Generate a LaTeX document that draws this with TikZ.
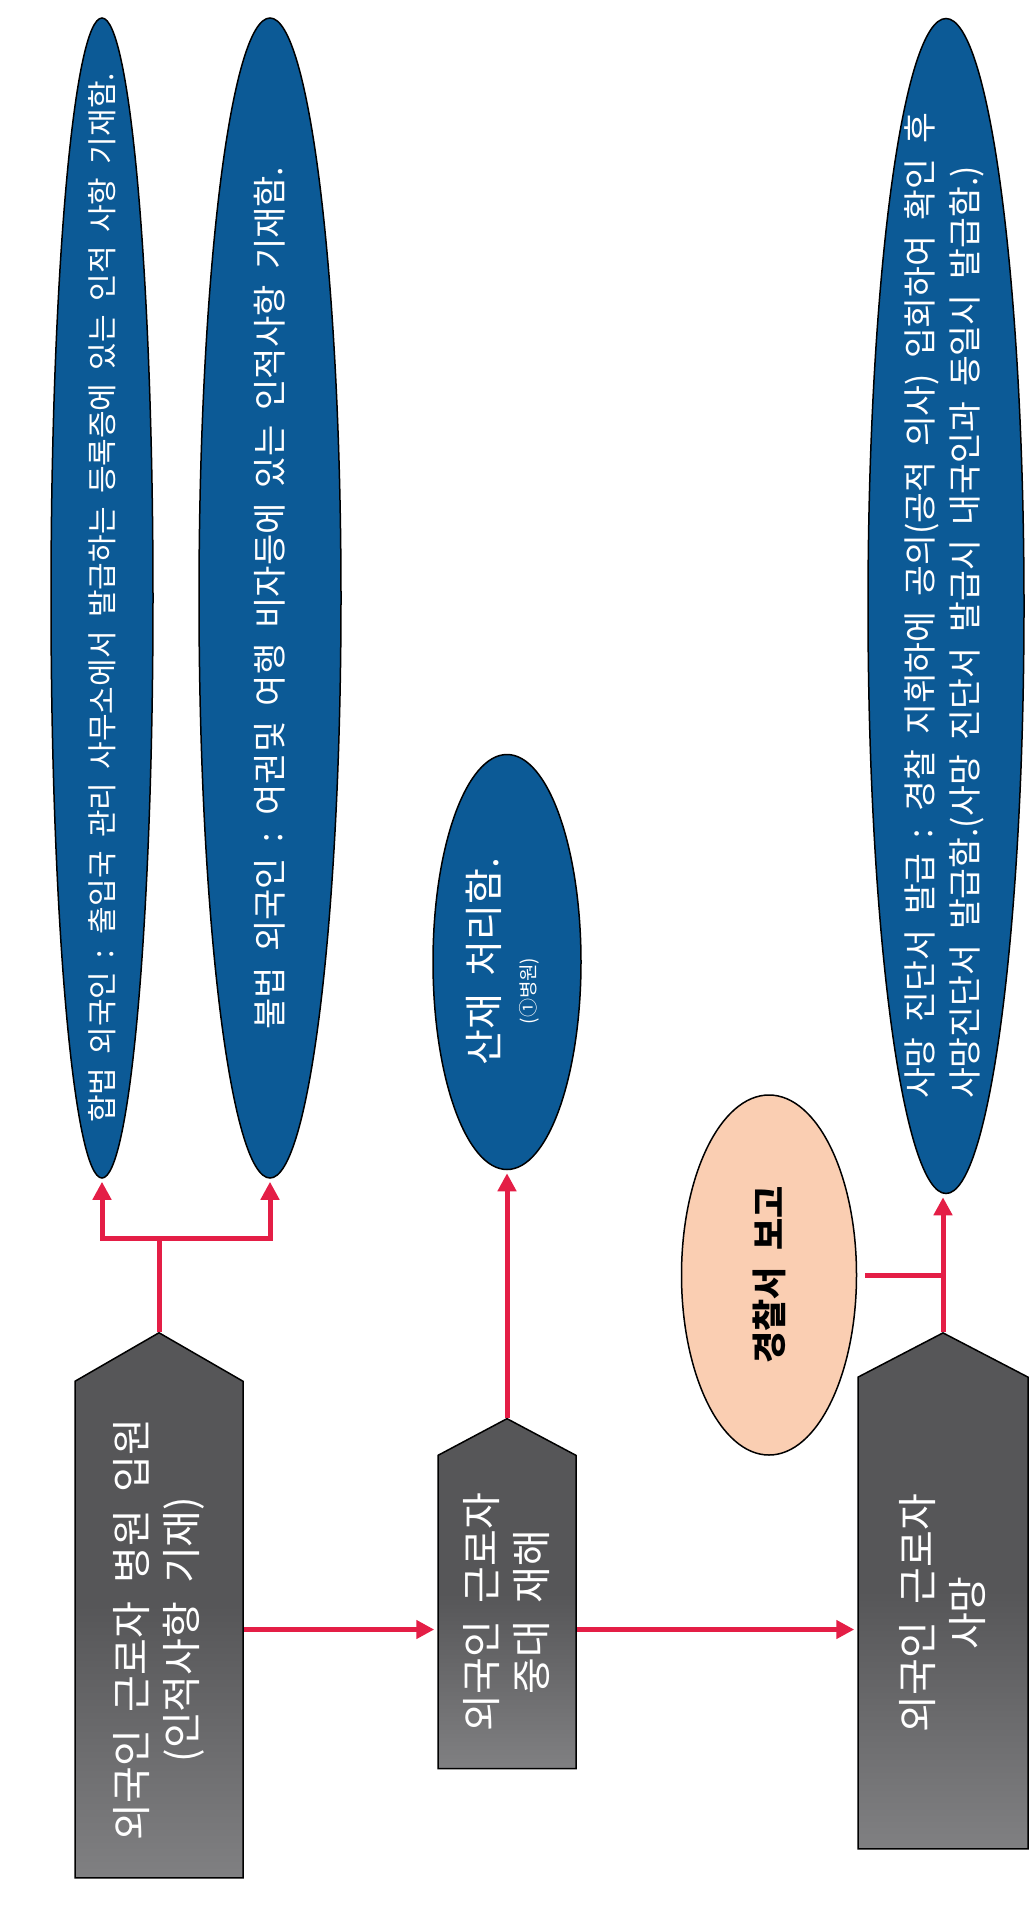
\documentclass[tikz,border=0pt]{standalone}
\usepackage{fontspec}
\setmainfont{Noto Sans CJK KR}[WordSpace=2]
\usetikzlibrary{shapes.geometric,shapes.symbols,arrows.meta}
\definecolor{linkred}{RGB}{228,30,70}
\definecolor{ovalblue}{RGB}{12,90,150}
\definecolor{peach}{RGB}{250,206,178}
\definecolor{slate}{RGB}{86,86,88}
\definecolor{slatelight}{RGB}{128,128,130}
\begin{document}
\begin{tikzpicture}[x=1pt,y=-1pt,
	  oval/.style={ellipse,draw=black,line width=1.5pt,fill=ovalblue,text=white,rotate=90,inner sep=0pt},
	  tag/.style={signal,signal to=east,draw=black,line width=1.5pt,top color=slate,bottom color=slatelight,middle color=slate,text=white,rotate=90,align=center,inner sep=0pt,font=\fontsize{40}{50}\selectfont},
	  link/.style={linkred,line width=5pt},
	  arr/.style={link,shorten >=3pt,-{Triangle[width=18pt,length=18pt]}}]
	  \useasboundingbox (0,0) rectangle (1028,1913);
	  \node[oval,minimum width=1160pt,minimum height=102pt,font=\fontsize{30}{36}\selectfont] (legal) at (102,598) {\makebox[0pt]{합법 외국인 : 출입국 관리 사무소에서 발급하는 등록증에 있는 인적 사항 기재함.}};
	  \node[oval,minimum width=1160pt,minimum height=142pt,font=\fontsize{34}{40}\selectfont] (illegal) at (270,598) {\makebox[0pt]{불법 외국인 : 여권및 여행 비자등에 있는 인적사항 기재함.}};
	  \node[oval,minimum width=415pt,minimum height=148pt,font=\fontsize{39}{44}\selectfont] (injury) at (507,962) {\makebox[0pt]{\begin{tabular}{@{}c@{}}산재 처리함.\\[-7pt]{\fontsize{19}{20}\selectfont (①병원)\hspace{58pt}\mbox{}}\end{tabular}}};
	  \node[oval,minimum width=1175pt,minimum height=156pt,font=\fontsize{33.5}{45}\selectfont] (cert) at (946,606) {\makebox[0pt]{\begin{tabular}{@{}l@{}}사망 진단서 발급 : 경찰 지휘하에 공의(공적 의사) 입회하여 확인 후\\사망진단서 발급함.(사망 진단서 발급시 내국인과 동일시 발급함.)\end{tabular}}};
	  \node[ellipse,draw=black,line width=1.5pt,fill=peach,rotate=90,inner sep=0pt,minimum width=360pt,minimum height=175pt,font=\fontsize{35}{40}\selectfont\bfseries] (police) at (769,1275) {경찰서 보고};
	  \node[tag,signal pointer angle=120,minimum width=545pt,minimum height=168pt] (admit) at (159,1629.5) {외국인 근로자 병원 입원\\(인적사항 기재)};
	  \node[tag,signal pointer angle=124,minimum width=350pt,minimum height=138pt] (accident) at (507,1612) {외국인 근로자\\중대 재해};
	  \node[tag,signal pointer angle=125,minimum width=516pt,minimum height=170pt] (death) at (943,1613) {외국인 근로자\\사망};
	  \coordinate (fork) at (159,1238);
	  \draw[link] (admit.east) -- (fork);
	  \draw[arr] (fork) -| (legal.west);
	  \draw[arr] (fork) -| (illegal.west);
	  \draw[arr] (accident.east) -- (accident.east |- injury.west);
	  \draw[arr] (death.east) -- (death.east |- cert.west);
	  \draw[link] ([xshift=8pt]police.south) -- (police.south -| death.east);
	  \draw[arr] (admit.south) -- (admit.south -| accident.north);
	  \draw[arr] (admit.south -| accident.south) -- (admit.south -| death.north);
	\end{tikzpicture}
\end{document}
